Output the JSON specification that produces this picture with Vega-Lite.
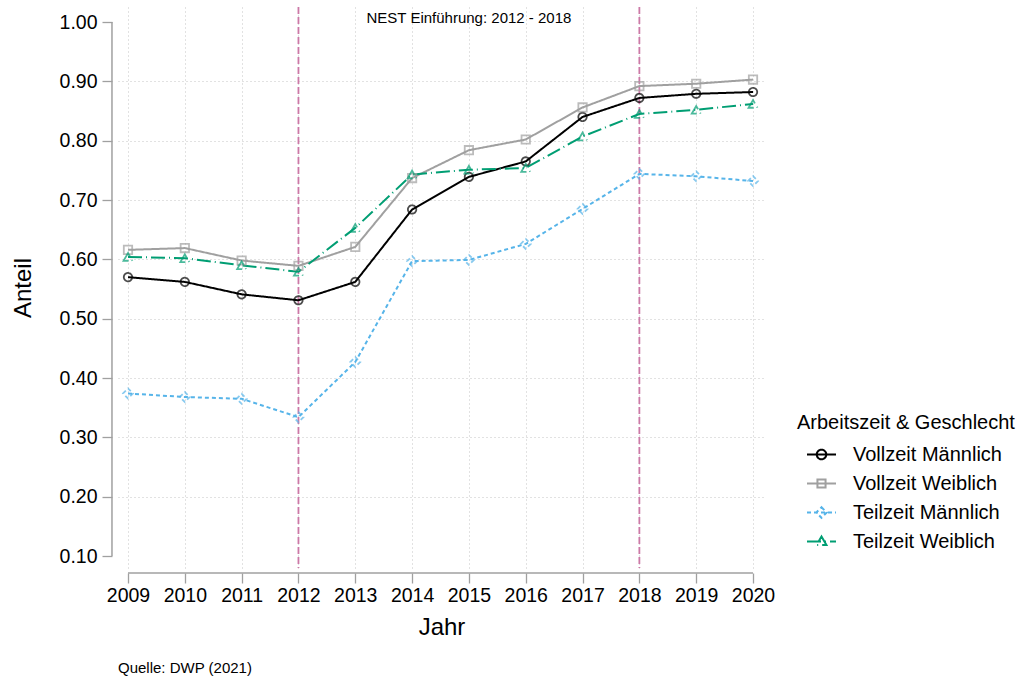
{
  "$schema": "https://vega.github.io/schema/vega-lite/v6.json",
  "width": 647,
  "height": 561,
  "autosize": {"type": "none"},
  "padding": {"left": 118, "top": 7, "right": 254, "bottom": 111},
  "background": "white",
  "config": {
    "font": "Liberation Sans",
    "view": {"stroke": null},
    "axis": {
      "domain": false,
      "tickSize": 10,
      "tickColor": "#a0a0a0",
      "tickWidth": 1.3,
      "labelFontSize": 19.5,
      "labelColor": "black",
      "titleFontSize": 24,
      "titleFontWeight": "normal",
      "titleColor": "black",
      "grid": true,
      "gridColor": "#c4c4c4",
      "gridDash": [1, 3],
      "gridWidth": 1,
      "labelFlush": false,
      "labelOverlap": false
    }
  },
  "title": {
    "text": "Quelle: DWP (2021)",
    "orient": "bottom",
    "anchor": "start",
    "frame": "group",
    "fontSize": 15,
    "fontWeight": "normal",
    "color": "black",
    "offset": 21
  },
  "datasets": {
    "anteil": [
      {"Jahr": 2009, "Gruppe": "Vollzeit Männlich", "Anteil": 0.570},
      {"Jahr": 2010, "Gruppe": "Vollzeit Männlich", "Anteil": 0.562},
      {"Jahr": 2011, "Gruppe": "Vollzeit Männlich", "Anteil": 0.541},
      {"Jahr": 2012, "Gruppe": "Vollzeit Männlich", "Anteil": 0.531},
      {"Jahr": 2013, "Gruppe": "Vollzeit Männlich", "Anteil": 0.562},
      {"Jahr": 2014, "Gruppe": "Vollzeit Männlich", "Anteil": 0.684},
      {"Jahr": 2015, "Gruppe": "Vollzeit Männlich", "Anteil": 0.739},
      {"Jahr": 2016, "Gruppe": "Vollzeit Männlich", "Anteil": 0.765},
      {"Jahr": 2017, "Gruppe": "Vollzeit Männlich", "Anteil": 0.840},
      {"Jahr": 2018, "Gruppe": "Vollzeit Männlich", "Anteil": 0.872},
      {"Jahr": 2019, "Gruppe": "Vollzeit Männlich", "Anteil": 0.879},
      {"Jahr": 2020, "Gruppe": "Vollzeit Männlich", "Anteil": 0.882},
      {"Jahr": 2009, "Gruppe": "Vollzeit Weiblich", "Anteil": 0.616},
      {"Jahr": 2010, "Gruppe": "Vollzeit Weiblich", "Anteil": 0.619},
      {"Jahr": 2011, "Gruppe": "Vollzeit Weiblich", "Anteil": 0.598},
      {"Jahr": 2012, "Gruppe": "Vollzeit Weiblich", "Anteil": 0.589},
      {"Jahr": 2013, "Gruppe": "Vollzeit Weiblich", "Anteil": 0.621},
      {"Jahr": 2014, "Gruppe": "Vollzeit Weiblich", "Anteil": 0.737},
      {"Jahr": 2015, "Gruppe": "Vollzeit Weiblich", "Anteil": 0.784},
      {"Jahr": 2016, "Gruppe": "Vollzeit Weiblich", "Anteil": 0.802},
      {"Jahr": 2017, "Gruppe": "Vollzeit Weiblich", "Anteil": 0.856},
      {"Jahr": 2018, "Gruppe": "Vollzeit Weiblich", "Anteil": 0.892},
      {"Jahr": 2019, "Gruppe": "Vollzeit Weiblich", "Anteil": 0.896},
      {"Jahr": 2020, "Gruppe": "Vollzeit Weiblich", "Anteil": 0.903},
      {"Jahr": 2009, "Gruppe": "Teilzeit Männlich", "Anteil": 0.374},
      {"Jahr": 2010, "Gruppe": "Teilzeit Männlich", "Anteil": 0.368},
      {"Jahr": 2011, "Gruppe": "Teilzeit Männlich", "Anteil": 0.365},
      {"Jahr": 2012, "Gruppe": "Teilzeit Männlich", "Anteil": 0.334},
      {"Jahr": 2013, "Gruppe": "Teilzeit Männlich", "Anteil": 0.427},
      {"Jahr": 2014, "Gruppe": "Teilzeit Männlich", "Anteil": 0.597},
      {"Jahr": 2015, "Gruppe": "Teilzeit Männlich", "Anteil": 0.599},
      {"Jahr": 2016, "Gruppe": "Teilzeit Männlich", "Anteil": 0.626},
      {"Jahr": 2017, "Gruppe": "Teilzeit Männlich", "Anteil": 0.685},
      {"Jahr": 2018, "Gruppe": "Teilzeit Männlich", "Anteil": 0.744},
      {"Jahr": 2019, "Gruppe": "Teilzeit Männlich", "Anteil": 0.740},
      {"Jahr": 2020, "Gruppe": "Teilzeit Männlich", "Anteil": 0.732},
      {"Jahr": 2009, "Gruppe": "Teilzeit Weiblich", "Anteil": 0.604},
      {"Jahr": 2010, "Gruppe": "Teilzeit Weiblich", "Anteil": 0.602},
      {"Jahr": 2011, "Gruppe": "Teilzeit Weiblich", "Anteil": 0.590},
      {"Jahr": 2012, "Gruppe": "Teilzeit Weiblich", "Anteil": 0.579},
      {"Jahr": 2013, "Gruppe": "Teilzeit Weiblich", "Anteil": 0.653},
      {"Jahr": 2014, "Gruppe": "Teilzeit Weiblich", "Anteil": 0.743},
      {"Jahr": 2015, "Gruppe": "Teilzeit Weiblich", "Anteil": 0.751},
      {"Jahr": 2016, "Gruppe": "Teilzeit Weiblich", "Anteil": 0.754},
      {"Jahr": 2017, "Gruppe": "Teilzeit Weiblich", "Anteil": 0.807},
      {"Jahr": 2018, "Gruppe": "Teilzeit Weiblich", "Anteil": 0.845},
      {"Jahr": 2019, "Gruppe": "Teilzeit Weiblich", "Anteil": 0.852},
      {"Jahr": 2020, "Gruppe": "Teilzeit Weiblich", "Anteil": 0.862}
    ],
    "nest": [{"Jahr": 2012}, {"Jahr": 2018}],
    "notiz": [{"Jahr": 2015, "Text": "NEST Einführung: 2012 - 2018"}]
  },
  "layer": [
    {
      "data": {"name": "nest"},
      "mark": {"type": "rule", "color": "#cc79a7", "strokeWidth": 1.8, "strokeDash": [7, 3]},
      "encoding": {
        "x": {"field": "Jahr", "type": "quantitative", "scale": {"domain": [2008.824, 2020.211], "nice": false, "zero": false}}
      }
    },
    {
      "data": {"name": "anteil"},
      "mark": {"type": "line", "strokeWidth": 2},
      "encoding": {
        "x": {
          "field": "Jahr", "type": "quantitative",
          "scale": {"domain": [2008.824, 2020.211], "nice": false, "zero": false},
          "axis": {"values": [2009, 2010, 2011, 2012, 2013, 2014, 2015, 2016, 2017, 2018, 2019, 2020], "format": "d", "title": "Jahr", "offset": 5, "labelPadding": 3, "titlePadding": 11}
        },
        "y": {
          "field": "Anteil", "type": "quantitative",
          "scale": {"domain": [0.0798, 1.0253], "nice": false, "zero": false},
          "axis": {
            "values": [0.1, 0.2, 0.3, 0.4, 0.5, 0.6, 0.7, 0.8, 0.9, 1.0],
            "format": ".2f", "title": "Anteil", "offset": 6, "labelPadding": 5, "titlePadding": 24,
            "gridOpacity": {"condition": {"test": "datum.value < 0.15 || datum.value > 0.95", "value": 0}, "value": 1}
          }
        },
        "color": {
          "field": "Gruppe", "type": "nominal",
          "scale": {"domain": ["Vollzeit Männlich", "Vollzeit Weiblich", "Teilzeit Männlich", "Teilzeit Weiblich"], "range": ["#000000", "#a0a0a0", "#56b4e9", "#009e73"]},
          "legend": {
            "title": "Arbeitszeit & Geschlecht",
            "orient": "none", "legendX": 679, "legendY": 406,
            "titleFontSize": 20, "titleFontWeight": "normal", "titleColor": "black", "titlePadding": 6, "titleLimit": 400,
            "labelFontSize": 20, "labelColor": "black", "labelOffset": 16, "labelLimit": 400,
            "symbolSize": 841, "symbolStrokeWidth": 2, "rowPadding": 3, "padding": 0, "symbolOffset": 9,
            "encode": {"symbols": {"update": {
              "shape": {"signal": "datum.value === 'Vollzeit Männlich' ? 'M-1,0H1M0.33,0A0.33,0.33,0,1,1,-0.33,0A0.33,0.33,0,1,1,0.33,0' : datum.value === 'Vollzeit Weiblich' ? 'M-1,0H1M-0.28,-0.28H0.28V0.28H-0.28Z' : datum.value === 'Teilzeit Männlich' ? 'M-1,0H1M0,-0.36L0.36,0L0,0.36L-0.36,0Z' : 'M-1,0H1M0,-0.34L0.34,0.24L-0.34,0.24Z'"}
            }}}
          }
        },
        "strokeDash": {
          "field": "Gruppe", "type": "nominal",
          "scale": {"domain": ["Vollzeit Männlich", "Vollzeit Weiblich", "Teilzeit Männlich", "Teilzeit Weiblich"], "range": [[1, 0], [1, 0], [4, 3], [14, 4, 1, 4]]},
          "legend": {"title": "Arbeitszeit & Geschlecht"}
        }
      }
    },
    {
      "data": {"name": "anteil"},
      "transform": [{"filter": "datum.Gruppe === 'Vollzeit Männlich'"}],
      "mark": {"type": "point", "shape": "circle", "filled": false, "size": 70, "strokeWidth": 1.8},
      "encoding": {
        "x": {"field": "Jahr", "type": "quantitative", "scale": {"domain": [2008.824, 2020.211], "nice": false, "zero": false}},
        "y": {"field": "Anteil", "type": "quantitative", "scale": {"domain": [0.0798, 1.0253], "nice": false, "zero": false}},
        "color": {"field": "Gruppe", "type": "nominal", "legend": {"title": "Arbeitszeit & Geschlecht"}},
        "strokeDash": {"field": "Gruppe", "type": "nominal", "legend": {"title": "Arbeitszeit & Geschlecht"}}
      }
    },
    {
      "data": {"name": "anteil"},
      "transform": [{"filter": "datum.Gruppe === 'Vollzeit Weiblich'"}],
      "mark": {"type": "point", "shape": "square", "filled": false, "size": 70, "strokeWidth": 1.8},
      "encoding": {
        "x": {"field": "Jahr", "type": "quantitative", "scale": {"domain": [2008.824, 2020.211], "nice": false, "zero": false}},
        "y": {"field": "Anteil", "type": "quantitative", "scale": {"domain": [0.0798, 1.0253], "nice": false, "zero": false}},
        "color": {"field": "Gruppe", "type": "nominal", "legend": {"title": "Arbeitszeit & Geschlecht"}},
        "strokeDash": {"field": "Gruppe", "type": "nominal", "legend": {"title": "Arbeitszeit & Geschlecht"}}
      }
    },
    {
      "data": {"name": "anteil"},
      "transform": [{"filter": "datum.Gruppe === 'Teilzeit Männlich'"}],
      "mark": {"type": "point", "shape": "diamond", "filled": false, "size": 100, "strokeWidth": 1.8},
      "encoding": {
        "x": {"field": "Jahr", "type": "quantitative", "scale": {"domain": [2008.824, 2020.211], "nice": false, "zero": false}},
        "y": {"field": "Anteil", "type": "quantitative", "scale": {"domain": [0.0798, 1.0253], "nice": false, "zero": false}},
        "color": {"field": "Gruppe", "type": "nominal", "legend": {"title": "Arbeitszeit & Geschlecht"}},
        "strokeDash": {"field": "Gruppe", "type": "nominal", "legend": {"title": "Arbeitszeit & Geschlecht"}}
      }
    },
    {
      "data": {"name": "anteil"},
      "transform": [{"filter": "datum.Gruppe === 'Teilzeit Weiblich'"}],
      "mark": {"type": "point", "shape": "triangle-up", "filled": false, "size": 80, "strokeWidth": 1.8},
      "encoding": {
        "x": {"field": "Jahr", "type": "quantitative", "scale": {"domain": [2008.824, 2020.211], "nice": false, "zero": false}},
        "y": {"field": "Anteil", "type": "quantitative", "scale": {"domain": [0.0798, 1.0253], "nice": false, "zero": false}},
        "color": {"field": "Gruppe", "type": "nominal", "legend": {"title": "Arbeitszeit & Geschlecht"}},
        "strokeDash": {"field": "Gruppe", "type": "nominal", "legend": {"title": "Arbeitszeit & Geschlecht"}}
      }
    },
    {
      "data": {"values": [{}]},
      "mark": {"type": "rule", "color": "#a0a0a0", "strokeWidth": 1.5},
      "encoding": {
        "x": {"datum": 2008.718, "type": "quantitative", "scale": {"domain": [2008.824, 2020.211], "nice": false, "zero": false}},
        "y": {"datum": 0.1, "type": "quantitative", "scale": {"domain": [0.0798, 1.0253], "nice": false, "zero": false}},
        "y2": {"datum": 1.0}
      }
    },
    {
      "data": {"values": [{}]},
      "mark": {"type": "rule", "color": "#a0a0a0", "strokeWidth": 1.5},
      "encoding": {
        "x": {"datum": 2009, "type": "quantitative", "scale": {"domain": [2008.824, 2020.211], "nice": false, "zero": false}},
        "x2": {"datum": 2020},
        "y": {"datum": 0.0713, "type": "quantitative", "scale": {"domain": [0.0798, 1.0253], "nice": false, "zero": false}}
      }
    },
    {
      "data": {"name": "notiz"},
      "mark": {"type": "text", "fontSize": 15, "align": "center", "baseline": "middle", "color": "black"},
      "encoding": {
        "x": {"field": "Jahr", "type": "quantitative", "scale": {"domain": [2008.824, 2020.211], "nice": false, "zero": false}},
        "y": {"datum": 1.0067, "type": "quantitative", "scale": {"domain": [0.0798, 1.0253], "nice": false, "zero": false}},
        "text": {"field": "Text"}
      }
    }
  ]
}
